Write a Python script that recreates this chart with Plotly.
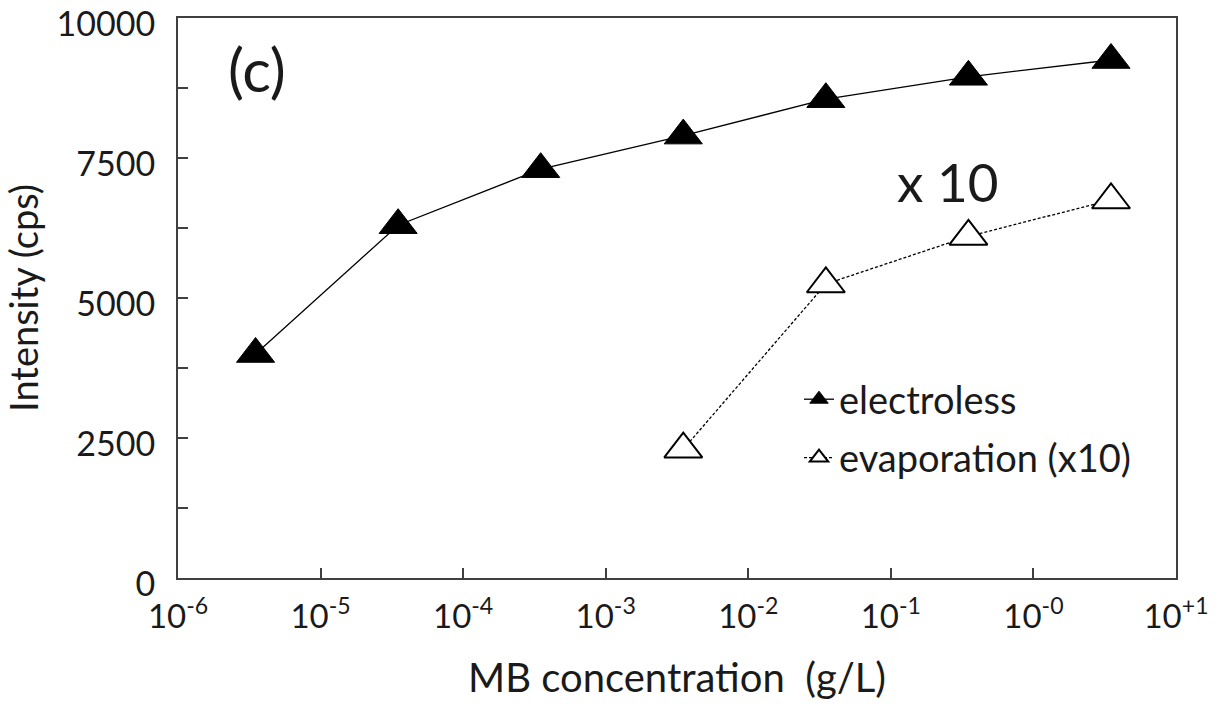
import plotly.graph_objects as go

# MB concentration (g/L) and measured intensity (cps)
conc = [3.5e-6, 3.5e-5, 3.5e-4, 3.5e-3, 3.5e-2, 3.5e-1, 3.5e0]
electroless = [4000, 6300, 7300, 7900, 8550, 8950, 9250]

conc_evap = [3.5e-3, 3.5e-2, 3.5e-1, 3.5e0]
evaporation_x10 = [2300, 5250, 6100, 6750]

x_tickvals = [1e-6, 1e-5, 1e-4, 1e-3, 1e-2, 1e-1, 1e0, 1e1]
x_ticktext = ["10<sup>-6</sup>", "10<sup>-5</sup>", "10<sup>-4</sup>", "10<sup>-3</sup>",
              "10<sup>-2</sup>", "10<sup>-1</sup>", "10<sup>-0</sup>", "10<sup>+1</sup>"]
y_tickvals = [0, 1250, 2500, 3750, 5000, 6250, 7500, 8750, 10000]
y_ticktext = ["0", "", "2500", "", "5000", "", "7500", "", "10000"]

FONT = "Lato, Open Sans, sans-serif"
INK = "#1a1a1a"
AXIS = "#404040"

# plot-area geometry in pixels
L, R, T, B = 178, 53, 18, 133
PW, PH = 1229 - L - R, 711 - T - B

fig = go.Figure()

fig.add_trace(go.Scatter(
    x=conc, y=electroless, name="electroless", mode="lines+markers",
    line=dict(color="black", width=1.3),
    marker=dict(symbol="triangle-up", size=33, color="black",
                line=dict(color="black", width=1)),
    legendgroup="a",
))

fig.add_trace(go.Scatter(
    x=conc_evap, y=evaporation_x10, name="evaporation (x10)", mode="lines+markers",
    line=dict(color="black", width=1.3, dash="3px,2px"),
    marker=dict(symbol="triangle-up", size=33, color="white",
                line=dict(color="black", width=2)),
    legendgroup="b",
))

fig.update_layout(
    width=1229, height=711,
    margin=dict(l=L, r=R, t=T, b=B, autoexpand=False),
    paper_bgcolor="white", plot_bgcolor="white",
    font=dict(family=FONT, color=INK, size=30),
    showlegend=True,
    legend=dict(
        x=(799 - L) / PW, y=1 - (368 - T) / PH, xanchor="left", yanchor="top",
        bgcolor="rgba(0,0,0,0)", font=dict(size=38, family=FONT, color=INK),
        traceorder="grouped", tracegroupgap=6, itemsizing="trace",
    ),
    annotations=[
        dict(text="(c)", x=(257 - L) / PW, y=1 - (69 - T) / PH,
             xref="paper", yref="paper", xanchor="center", yanchor="middle",
             showarrow=False, font=dict(size=60, family=FONT, color=INK)),
        dict(text="x 10", x=(947 - L) / PW, y=1 - (181 - T) / PH,
             xref="paper", yref="paper", xanchor="center", yanchor="middle",
             showarrow=False, font=dict(size=53, family=FONT, color=INK)),
    ],
)

fig.update_xaxes(
    type="log", range=[-6, 1], automargin=False,
    tickvals=x_tickvals, ticktext=x_ticktext,
    ticks="inside", ticklen=10, tickwidth=2, tickcolor=AXIS,
    showline=True, linecolor=AXIS, linewidth=2, mirror=True,
    showgrid=False, zeroline=False,
    tickfont=dict(size=33, family=FONT, color=INK),
    ticklabelstandoff=8, ticklabeloverflow="allow",
    title=dict(text="MB concentration\u00a0\u00a0(g/L)",
               font=dict(size=40, family=FONT, color=INK), standoff=30),
)

fig.update_yaxes(
    range=[0, 10000], automargin=False,
    tickvals=y_tickvals, ticktext=y_ticktext,
    ticks="inside", ticklen=10, tickwidth=2, tickcolor=AXIS,
    showline=True, linecolor=AXIS, linewidth=2, mirror=True,
    showgrid=False, zeroline=False,
    tickfont=dict(size=34, family=FONT, color=INK),
    ticklabelstandoff=14, ticklabelshift=6, ticklabeloverflow="allow",
    title=dict(text="Intensity (cps)",
               font=dict(size=38, family=FONT, color=INK), standoff=10),
)

fig.write_html("out.html")
